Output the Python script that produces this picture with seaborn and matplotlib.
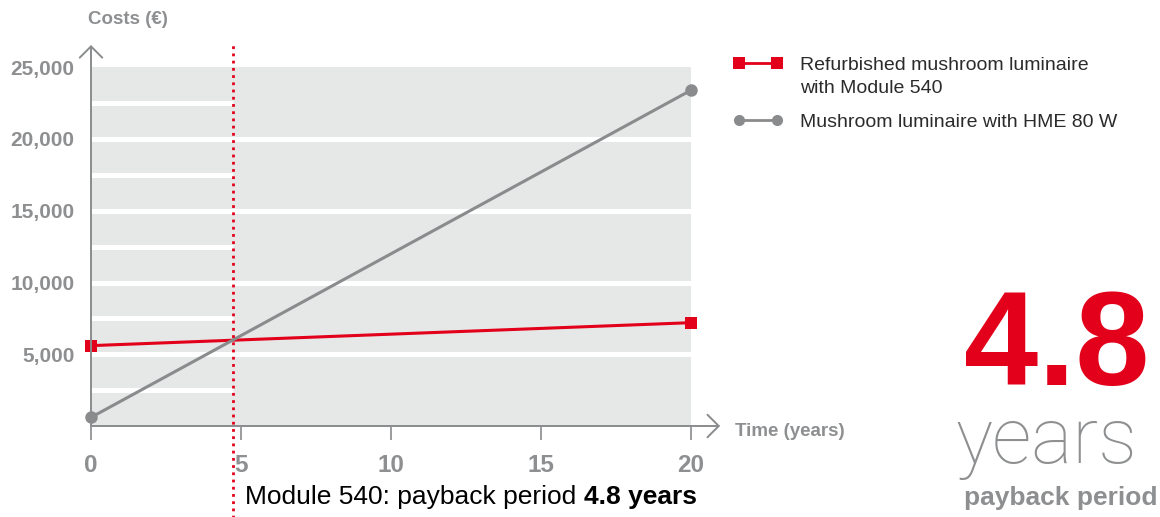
import numpy as np
import pandas as pd
import matplotlib
matplotlib.use("Agg")
import matplotlib.pyplot as plt
from matplotlib.lines import Line2D
import seaborn as sns

# data
years = [0, 20]
costs_module540 = [5600, 7200]
costs_hme80 = [600, 23400]
series_names = ["Refurbished mushroom luminaire\nwith Module 540", "Mushroom luminaire with HME 80 W"]
x_ticks = [0, 5, 10, 15, 20]
y_ticks = [5000, 10000, 15000, 20000, 25000]
y_minor = [2500, 7500, 12500, 17500, 22500]
payback_text = "4.8"

RED = "#e2001a"
GREY = "#898b8d"
TICK_GREY = "#8d8f91"
BAND = "#e6e7e7"
TEXT = "#2b2b2b"

df = pd.DataFrame({
    "year": years + years,
    "cost": costs_module540 + costs_hme80,
    "series": [series_names[0]] * 2 + [series_names[1]] * 2,
})

# crossing point of the two lines
s_red = (costs_module540[1] - costs_module540[0]) / (years[1] - years[0])
s_grey = (costs_hme80[1] - costs_hme80[0]) / (years[1] - years[0])
x_cross = (costs_module540[0] - costs_hme80[0]) / (s_grey - s_red)

sns.set_theme(style="white")
plt.rcParams["font.family"] = ["Liberation Sans", "DejaVu Sans"]

fig = plt.figure(figsize=(11.6, 5.17), dpi=100)
ax = fig.add_axes([76 / 1160, 1 - 440.35 / 517, 660 / 1160, 401.8 / 517])
ax.set_xlim(-0.5, 21.5)
ax.set_ylim(-1000, 27000)

# grey band with white grid lines
ax.fill_between([years[0], years[1]], 0, 25000, color=BAND, lw=0, zorder=0)
for y in y_ticks[:-1]:
    ax.plot([0, 20], [y, y], color="white", lw=3.6, zorder=1, solid_capstyle="butt")
for y in y_minor:
    ax.plot([0, x_cross], [y, y], color="white", lw=3.6, zorder=1, solid_capstyle="butt")

sns.lineplot(data=df, x="year", y="cost", hue="series", style="series",
             palette={series_names[0]: RED, series_names[1]: GREY},
             markers={series_names[0]: "s", series_names[1]: "o"}, dashes=False,
             markersize=9, markeredgewidth=0, linewidth=2.2, legend=False, ax=ax,
             zorder=3, clip_on=False)

for s in ax.spines.values():
    s.set_visible(False)

# axes with open arrow heads
arr = dict(arrowstyle="->,head_length=0.45,head_width=0.45", color=GREY, lw=1.4,
           mutation_scale=18, shrinkA=0, shrinkB=0)
ax.annotate("", xy=(0, 26550), xytext=(0, 0), arrowprops=arr, annotation_clip=False)
ax.annotate("", xy=(20.97, 0), xytext=(0, 0), arrowprops=arr, annotation_clip=False)

# payback marker line
ax.plot([x_cross, x_cross], [-6400, 26550], color=RED, lw=2, ls=(0, (1, 1.6)),
        clip_on=False, zorder=4)

ax.set_xticks(x_ticks)
ax.set_yticks(y_ticks)
ax.set_yticklabels([f"{v:,}" for v in y_ticks])
ax.tick_params(axis="x", length=9.5, width=1.2, color=GREY, pad=10, labelsize=17.5,
               labelcolor=TICK_GREY, direction="in", bottom=True)
ax.tick_params(axis="y", length=0, pad=1, labelsize=15, labelcolor=TICK_GREY)
for lab in ax.get_xticklabels() + ax.get_yticklabels():
    lab.set_fontweight("bold")
ax.set_xlabel("")
ax.set_ylabel("")
ax.grid(False)
ax.set_facecolor("none")

fig.text(88 / 1160, 1 - 20 / 517, "Costs (€)", fontsize=13.5, fontweight="bold",
         color=TICK_GREY, ha="left", va="center")
fig.text(735 / 1160, 1 - 432 / 517, "Time (years)", fontsize=13.5, fontweight="bold",
         color=TICK_GREY, ha="left", va="center")

# legend drawn by hand
for yy, col, mk, lab in [(63, RED, "s", series_names[0]), (120, GREY, "o", series_names[1])]:
    fy = 1 - yy / 517
    fig.add_artist(Line2D([739 / 1160, 777 / 1160], [fy, fy], color=col, lw=2,
                          marker=mk, markersize=8, markeredgewidth=0, transform=fig.transFigure))
    fig.text(800 / 1160, fy + 6 / 517, lab, fontsize=14, color=TEXT, ha="left", va="top",
             linespacing=1.45)

# bottom caption with bold ending
t1 = fig.text(245 / 1160, 1 - 497 / 517, "Module 540: payback period ", fontsize=19,
              color="black", ha="left", va="center")
ax.annotate(payback_text + " years", xy=(1, 0), xycoords=t1, va="bottom", ha="left",
            fontsize=19, fontweight="bold", color="black", annotation_clip=False)

# big number block on the right
fig.text(1150 / 1160, 1 - 385 / 517, payback_text, fontsize=96, fontweight="bold",
         color=RED, ha="right", va="baseline")
fig.text(1137 / 1160, 1 - 463 / 517, "years", fontsize=56, fontweight="light",
         color=TICK_GREY, ha="right", va="baseline", family=["Roboto", "Liberation Sans"])
fig.text(1158 / 1160, 1 - 498 / 517, "payback period", fontsize=19, fontweight="bold",
         color=TICK_GREY, ha="right", va="center")

fig.savefig("out.png", dpi=100)
